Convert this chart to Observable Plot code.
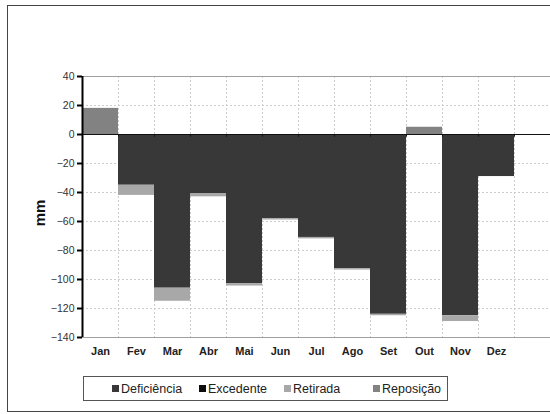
<!DOCTYPE html>
<html>
<head>
<meta charset="utf-8">
<script src="https://cdn.jsdelivr.net/npm/d3@7"></script>
<script src="https://cdn.jsdelivr.net/npm/@observablehq/plot@0.6"></script>
<style>
  html, body { margin: 0; padding: 0; background: #fff; overflow: hidden; }
  #wrap { position: relative; width: 550px; height: 414px; overflow: hidden; font-family: "Liberation Sans", Arial, sans-serif; }
  #frame { position: absolute; left: 7px; top: 5px; width: 620px; height: 405px; border: 1px solid #444; }
  #chart { position: absolute; left: 0; top: 0; }
  #legend { position: absolute; left: 83px; top: 376px; width: 365px; height: 25px; border: 1px solid #555; box-sizing: border-box;
            display: flex; align-items: center; font-size: 12.5px; color: #222; }
  .item { position: absolute; display: flex; align-items: center; white-space: nowrap; }
  .sw { width: 7px; height: 7px; margin-right: 2px; }
</style>
</head>
<body>
<div id="wrap">
  <div id="frame"></div>
  <div id="chart"></div>
  <div id="legend"></div>
</div>
<script>
const months = ["Jan","Fev","Mar","Abr","Mai","Jun","Jul","Ago","Set","Out","Nov","Dez"];
const series = ["Deficiência","Excedente","Retirada","Reposição"];
const colors = ["#383838","#0d0d0d","#a8a8a8","#828282"];
const deficiencia = [0,-35,-106,-41,-103,-58,-71,-92.5,-124,0,-125,-29];
const excedente   = [0,0,0,0,0,0,0,0,0,0,0,0];
const retirada    = [0,-7,-9,-2,-1.5,-1,-1,-1,-1,0,-4,0];
const reposicao   = [18,0,0,0,0,0,0,0,0,5,0,0];
const yTicks = [40,20,0,-20,-40,-60,-80,-100,-120,-140];

const seriesValues = [deficiencia, excedente, retirada, reposicao];
const data = [];
months.forEach((m, i) => {
  series.forEach((s, j) => {
    const v = seriesValues[j][i];
    if (v !== 0) data.push({month: m, series: s, value: v});
  });
});

const W = 550, mL = 82, mR = 0;
const domainX = [...months, " "];
const bw = (W - mL - mR) / domainX.length;

const chart = Plot.plot({
  width: W,
  height: 362,
  marginLeft: mL,
  marginRight: mR,
  marginTop: 76,
  marginBottom: 25,
  style: {fontFamily: "'Liberation Sans', Arial, sans-serif", background: "transparent"},
  x: {domain: domainX, padding: 0, axis: null},
  y: {domain: [-140, 40], axis: null},
  color: {domain: series, range: colors},
  marks: [
    Plot.ruleY(yTicks.filter(d => d !== 0 && d !== 40 && d !== -140), {stroke: "#cccccc", strokeDasharray: "2,2", strokeWidth: 1}),
    Plot.ruleX(domainX.slice(1), {dx: -bw / 2, stroke: "#cccccc", strokeDasharray: "2,2", strokeWidth: 1}),
    Plot.ruleY([40, -140], {stroke: "#a0a0a0", strokeWidth: 1}),
    Plot.barY(data, {x: "month", y: "value", fill: "series", inset: 0}),
    Plot.ruleY([0], {stroke: "#111", strokeWidth: 1}),
    Plot.ruleX(domainX.slice(1), {dx: -bw / 2, y1: 0, y2: -1.8, stroke: "#111", strokeWidth: 1}),
    Plot.axisY({ticks: yTicks, tickSize: 5, tickPadding: 3, fontSize: 10.5, stroke: "#000", strokeWidth: 2, fill: "#333", label: null}),
    Plot.ruleX([0], {x: () => months[0], dx: -bw / 2, stroke: "#000", strokeWidth: 2}),
    Plot.axisX({ticks: months, tickSize: 0, tickPadding: 10, fontSize: 11, fontWeight: "bold", fill: "#222", label: null}),
    Plot.text(["mm"], {frameAnchor: "left", textAnchor: "middle", rotate: -90, dx: -42, dy: 6, fontSize: 15, fontWeight: "bold", fill: "#111"})
  ]
});
document.getElementById("chart").appendChild(chart);

const legend = document.getElementById("legend");
const lx = [28, 115, 200, 289];
series.forEach((s, i) => {
  const it = document.createElement("div");
  it.className = "item";
  it.style.left = lx[i] + "px";
  it.innerHTML = `<span class="sw" style="background:${colors[i]}"></span>${s}`;
  legend.appendChild(it);
});
</script>
</body>
</html>
